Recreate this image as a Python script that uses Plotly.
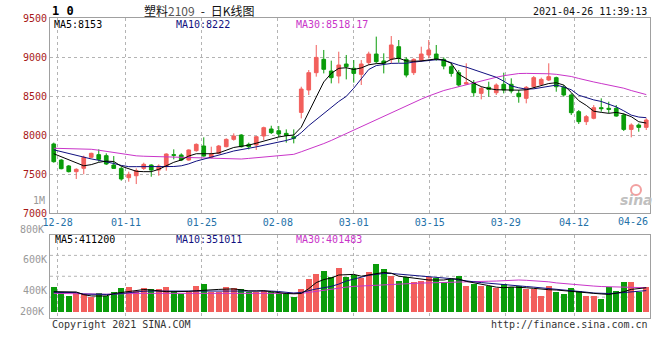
import plotly.graph_objects as go

W, H = 660, 360

# ---------------- data ----------------
dates = ["12-25", "12-28", "12-29", "12-30", "12-31",
         "01-04", "01-05", "01-06", "01-07", "01-08",
         "01-11", "01-12", "01-13", "01-14", "01-15",
         "01-18", "01-19", "01-20", "01-21", "01-22",
         "01-25", "01-26", "01-27", "01-28", "01-29",
         "02-01", "02-02", "02-03", "02-04", "02-05",
         "02-08", "02-09", "02-10", "02-18", "02-19",
         "02-22", "02-23", "02-24", "02-25", "02-26",
         "03-01", "03-02", "03-03", "03-04", "03-05",
         "03-08", "03-09", "03-10", "03-11", "03-12",
         "03-15", "03-16", "03-17", "03-18", "03-19",
         "03-22", "03-23", "03-24", "03-25", "03-26",
         "03-29", "03-30", "03-31", "04-01", "04-02",
         "04-06", "04-07", "04-08", "04-09",
         "04-12", "04-13", "04-14", "04-15", "04-16",
         "04-19", "04-20", "04-21", "04-22", "04-23",
         "04-26"]

open_ = [7885, 7679, 7603, 7530, 7573, 7714, 7748, 7735, 7615, 7572,
         7453, 7478, 7572, 7615, 7551, 7594, 7748, 7744, 7679, 7799,
         7859, 7713, 7765, 7850, 7944, 8000, 7880, 7872, 7987, 8077,
         8055, 8021, 7978, 8290, 8577, 8799, 8970, 8820, 8756, 8910,
         8855, 8778, 8927, 9038, 8949, 8970, 9132, 8970, 8799, 8961,
         9026, 9038, 8970, 8876, 8799, 8654, 8671, 8534, 8611, 8542,
         8650, 8650, 8534, 8470, 8619, 8649, 8705, 8735, 8611, 8513,
         8299, 8171, 8214, 8350, 8342, 8342, 8256, 8072, 8128, 8098]
high = [7902, 7690, 7615, 7573, 7735, 7773, 7816, 7765, 7730, 7594,
        7530, 7572, 7645, 7624, 7624, 7765, 7816, 7765, 7816, 7893,
        7970, 7850, 7872, 7957, 8021, 8010, 7902, 7987, 8107, 8119,
        8115, 8072, 8072, 8619, 8833, 9154, 9090, 8953, 9068, 9026,
        8961, 8961, 9068, 9261, 9047, 9269, 9218, 8996, 8983, 9132,
        9218, 9154, 8996, 8919, 8833, 8919, 8705, 8619, 8683, 8662,
        8799, 8726, 8577, 8628, 8756, 8735, 8919, 8748, 8641, 8534,
        8320, 8256, 8384, 8470, 8427, 8384, 8278, 8149, 8149, 8214]
low = [7645, 7560, 7520, 7436, 7496, 7701, 7658, 7615, 7568, 7414,
       7401, 7371, 7551, 7465, 7478, 7542, 7688, 7666, 7671, 7786,
       7722, 7701, 7756, 7842, 7927, 7840, 7816, 7808, 7936, 8013,
       7970, 7902, 7893, 8213, 8513, 8748, 8790, 8662, 8662, 8713,
       8671, 8641, 8897, 8919, 8790, 8919, 8927, 8739, 8769, 8940,
       8983, 8953, 8842, 8748, 8619, 8641, 8491, 8457, 8491, 8513,
       8534, 8534, 8414, 8406, 8598, 8628, 8692, 8555, 8491, 8256,
       8141, 8128, 8201, 8299, 8278, 8235, 8051, 7970, 8042, 8064]
close = [7658, 7568, 7530, 7560, 7714, 7765, 7688, 7628, 7572, 7436,
         7495, 7542, 7624, 7551, 7602, 7756, 7740, 7679, 7808, 7880,
         7730, 7756, 7859, 7944, 7987, 7850, 7850, 7978, 8094, 8030,
         8013, 7995, 7957, 8589, 8799, 8995, 8842, 8735, 8897, 8876,
         8790, 8910, 9038, 8940, 8919, 9154, 8983, 8769, 8970, 9038,
         9090, 8970, 8884, 8790, 8641, 8671, 8542, 8598, 8585, 8641,
         8577, 8564, 8491, 8611, 8735, 8713, 8748, 8619, 8513, 8286,
         8171, 8235, 8350, 8338, 8329, 8243, 8072, 8128, 8098, 8192]

ma5 = [7760, 7720, 7680, 7640, 7605, 7620, 7650, 7665, 7660, 7600,
       7565, 7535, 7530, 7530, 7560, 7610, 7650, 7680, 7730, 7760,
       7760, 7760, 7770, 7800, 7840, 7855, 7870, 7895, 7925, 7950,
       7975, 7990, 8000, 8100, 8290, 8480, 8680, 8790, 8855, 8862,
       8840, 8860, 8900, 8915, 8920, 8970, 8985, 8950, 8945, 8950,
       8960, 8975, 8960, 8920, 8780, 8720, 8665, 8620, 8595, 8580,
       8577, 8575, 8575, 8580, 8610, 8630, 8660, 8670, 8640, 8545,
       8440, 8380, 8305, 8290, 8278, 8290, 8270, 8235, 8170, 8153]
ma10 = [7810, 7785, 7760, 7735, 7710, 7693, 7676, 7660, 7635, 7610,
        7594, 7594, 7594, 7594, 7594, 7594, 7596, 7605, 7630, 7665,
        7690, 7710, 7740, 7768, 7795, 7808, 7830, 7848, 7868, 7885,
        7903, 7930, 7957, 8030, 8120, 8200, 8280, 8360, 8430, 8495,
        8600, 8720, 8840, 8890, 8905, 8918, 8920, 8920, 8935, 8945,
        8955, 8965, 8960, 8925, 8895, 8870, 8835, 8800, 8770, 8740,
        8690, 8630, 8605, 8588, 8592, 8610, 8630, 8640, 8615, 8580,
        8510, 8475, 8450, 8430, 8400, 8360, 8310, 8255, 8230, 8222]
ma30 = [7830, 7828, 7826, 7823, 7820, 7817, 7805, 7790, 7772, 7758,
        7745, 7733, 7728, 7725, 7722, 7718, 7714, 7710, 7706, 7703,
        7701, 7699, 7697, 7695, 7693, 7692, 7700, 7708, 7715, 7722,
        7732, 7742, 7752, 7785, 7818, 7850, 7890, 7930, 7975, 8020,
        8065, 8110, 8155, 8200, 8245, 8290, 8335, 8378, 8420, 8460,
        8500, 8540, 8570, 8595, 8620, 8645, 8665, 8690, 8715, 8740,
        8760, 8775, 8788, 8790, 8790, 8790, 8785, 8778, 8768, 8750,
        8725, 8700, 8680, 8660, 8640, 8620, 8600, 8570, 8545, 8518.17]

volume = [421, 394, 368, 383, 379, 357, 383, 368, 394, 416,
          423, 397, 416, 412, 408, 421, 397, 379, 394, 434,
          441, 394, 390, 423, 416, 408, 390, 390, 397, 390,
          386, 383, 357, 408, 474, 511, 533, 489, 548, 489,
          504, 482, 526, 573, 540, 500, 467, 489, 456, 467,
          489, 482, 456, 474, 496, 430, 445, 430, 430, 416,
          445, 423, 430, 408, 412, 368, 430, 390, 375, 416,
          401, 368, 368, 342, 427, 401, 456, 460, 394, 423]
vma5 = [390, 390, 390, 388, 370, 362, 361, 362, 378, 385,
        392, 398, 404, 401, 395, 390, 390, 390, 392, 396,
        400, 402, 405, 407, 408, 402, 395, 395, 397, 390,
        382, 378, 376, 378, 410, 450, 470, 480, 500, 504,
        504, 492, 500, 511, 517, 512, 492, 486, 479, 472,
        467, 467, 467, 475, 473, 458, 450, 440, 430, 420,
        416, 421, 420, 416, 412, 405, 403, 401, 396, 390,
        387, 384, 379, 375, 372, 380, 390, 405, 412, 416]
vma10 = [386, 386, 386, 384, 374, 372, 372, 372, 373, 378,
         386, 391, 393, 394, 394, 394, 394, 394, 395, 396,
         397, 397, 397, 397, 397, 397, 397, 397, 397, 394,
         391, 386, 381, 385, 398, 408, 416, 425, 440, 460,
         473, 485, 498, 504, 510, 510, 506, 501, 497, 492,
         488, 484, 480, 476, 468, 460, 455, 450, 445, 441,
         437, 432, 428, 424, 420, 416, 412, 408, 403, 397,
         392, 387, 381, 378, 378, 380, 384, 391, 395, 397]
vma30 = [379, 378, 377, 375, 373, 372, 372, 373, 375, 377,
         379, 379, 379, 379, 379, 379, 379, 379, 379, 379,
         379, 379, 379, 379, 379, 379, 379, 379, 379, 379,
         379, 379, 379, 379, 385, 392, 400, 410, 415, 420,
         425, 428, 431, 434, 436, 438, 441, 443, 445, 447,
         448, 450, 452, 453, 455, 456, 457, 458, 459, 460,
         463, 466, 467, 465, 462, 460, 455, 448, 443, 439,
         435, 431, 427, 424, 422, 421, 420, 418, 417, 416]

tick_labels = ["12-28", "01-11", "01-25", "02-08", "03-01",
               "03-15", "03-29", "04-12", "04-26"]
price_ticks = [7000, 7500, 8000, 8500, 9000, 9500]
vol_ticks = [400, 600]
vol_tick_text = ["400K", "600K"]

title_text = '塑料<span style="color:#555">2109</span>\u2002-\u2002日K线图'
time_text = "2021-04-26 11:39:13"
price_legend = ["MA5:8153", "MA10:8222", "MA30:8518.17"]
vol_legend = ["MA5:411200", "MA10:351011", "MA30:401483"]

# ---------------- styling ----------------
RED = "#F25F5C"
GREEN = "#0A9C0A"
NAVY = "#101080"
MAGENTA = "#C935C9"
GRID = "#b4b4b4"
FRAME = "#a0a0a0"
MONO = "DejaVu Sans Mono, Liberation Mono, monospace"
CJK = "Noto Sans CJK SC, sans-serif"

N = len(dates)
xs = list(range(N))
tick_idx = [dates.index(t) for t in tick_labels]
grid_pos = [-0.5 + k * N / (N - 1) for k in tick_idx]
xtick_text = tick_labels[:-1] + [""]

def px_x(p):
    return p / W

def px_y(p):
    return 1 - p / H

X_DOM = [px_x(50), px_x(650)]
P_DOM = [px_y(213), px_y(18)]
V_DOM = [px_y(318), px_y(234.5)]
V_RANGE = [216.4, 767.1]
V_BASE = 262.0

fig = go.Figure()

fig.add_trace(go.Candlestick(
    x=xs, open=open_, high=high, low=low, close=close,
    increasing=dict(line=dict(color=RED, width=1), fillcolor=RED),
    decreasing=dict(line=dict(color=GREEN, width=1), fillcolor=GREEN),
    whiskerwidth=0, xaxis="x", yaxis="y", hoverinfo="skip"))

for series, col in [(ma30, MAGENTA), (ma10, NAVY), (ma5, "#000000")]:
    fig.add_trace(go.Scatter(x=xs, y=series, mode="lines",
                             line=dict(color=col, width=1),
                             xaxis="x", yaxis="y", hoverinfo="skip"))

bar_colors = [RED if c >= o else GREEN for o, c in zip(open_, close)]
fig.add_trace(go.Bar(x=xs, y=[v - V_BASE for v in volume], base=V_BASE,
                     marker=dict(color=bar_colors, line=dict(width=0)),
                     width=0.8, xaxis="x2", yaxis="y2", hoverinfo="skip"))

for series, col in [(vma30, MAGENTA), (vma10, NAVY), (vma5, "#000000")]:
    fig.add_trace(go.Scatter(x=xs, y=series, mode="lines",
                             line=dict(color=col, width=1),
                             xaxis="x2", yaxis="y2", hoverinfo="skip"))

axis_common = dict(showline=True, mirror=True, linecolor=FRAME, linewidth=1,
                   zeroline=False, ticks="", automargin=False)

fig.update_layout(
    width=W, height=H, autosize=False,
    margin=dict(l=0, r=0, t=0, b=0, pad=0, autoexpand=False),
    paper_bgcolor="white", plot_bgcolor="white",
    showlegend=False, bargap=0,
    xaxis=dict(domain=X_DOM, range=[-0.5, N - 0.5], anchor="y",
               tickmode="array", tickvals=grid_pos, ticktext=xtick_text,
               tickfont=dict(family=MONO, size=10, color="#2471A8"),
               showgrid=True, gridcolor=GRID, griddash="dot", gridwidth=1,
               rangeslider=dict(visible=False), **axis_common),
    yaxis=dict(domain=P_DOM, range=[7000, 9500], anchor="x",
               tickmode="array", tickvals=price_ticks,
               ticktext=[str(t) for t in price_ticks],
               tickfont=dict(family=MONO, size=10, color="#A81818"),
               showgrid=True, gridcolor=GRID, griddash="dot", gridwidth=1,
               **axis_common),
    xaxis2=dict(domain=X_DOM, range=[-0.5, N - 0.5], anchor="y2",
                tickmode="array", tickvals=grid_pos, showticklabels=False,
                showgrid=True, gridcolor=GRID, griddash="dot", gridwidth=1,
                **axis_common),
    yaxis2=dict(domain=V_DOM, range=V_RANGE, anchor="x2",
                tickmode="array", tickvals=vol_ticks, ticktext=vol_tick_text,
                tickfont=dict(family=MONO, size=10, color="#999999"),
                showgrid=False, **axis_common),
)

# quarter gridlines of the volume panel
for f in (0.25, 0.5, 0.75):
    fig.add_shape(type="line", xref="x2 domain", yref="y2 domain",
                  x0=0, x1=1, y0=f, y1=f,
                  line=dict(color=GRID, width=1, dash="dot"), layer="below")

def ann(text, x, y, xanchor="left", color="#000", size=10, family=MONO, **kw):
    fig.add_annotation(text=text, x=px_x(x), y=px_y(y), xref="paper", yref="paper",
                       xanchor=xanchor, yanchor="middle", showarrow=False,
                       font=dict(family=family, size=size, color=color), **kw)

# header
ann("<b>1 0</b>", 50, 10.5, size=12)
ann(title_text, 199, 10, xanchor="center", color="#111", size=12, family=CJK)
ann(time_text, 649, 11.5, xanchor="right", color="#111")

# MA legends
ann(price_legend[0], 52, 24.5, color="#000")
ann(price_legend[1], 174, 24.5, color=NAVY)
ann(price_legend[2], 294, 24.5, color=MAGENTA)
ann(vol_legend[0], 53, 239.5, color="#000")
ann(vol_legend[1], 174, 239.5, color=NAVY)
ann(vol_legend[2], 294, 239.5, color=MAGENTA)

# extra axis texts
ann("1M", 47, 200, xanchor="right", color="#999")
ann("800K", 46, 230, xanchor="right", color="#999")
ann("200K", 46, 311, xanchor="right", color="#999")
fig.add_annotation(text=tick_labels[-1], x=grid_pos[-1], xref="x",
                   y=px_y(221.5), yref="paper", xanchor="right", yanchor="middle",
                   showarrow=False, font=dict(family=MONO, size=10, color="#2471A8"))

# footer
ann("Copyright 2021 SINA.COM", 50, 324, color="#333")
ann("http://finance.sina.com.cn", 650, 324, xanchor="right", color="#333")

# sina watermark
fig.add_shape(type="circle", xref="paper", yref="paper",
              x0=px_x(631), x1=px_x(641), y0=px_y(195), y1=px_y(185),
              line=dict(color="#F2A0A0", width=2))
ann("<b><i>sina</i></b>", 636, 200, xanchor="center", color="#c0c0c0", size=14,
    family="DejaVu Sans, sans-serif")

fig.write_html("out.html", config={"displayModeBar": False},
               post_script="document.body.style.margin='0';")
